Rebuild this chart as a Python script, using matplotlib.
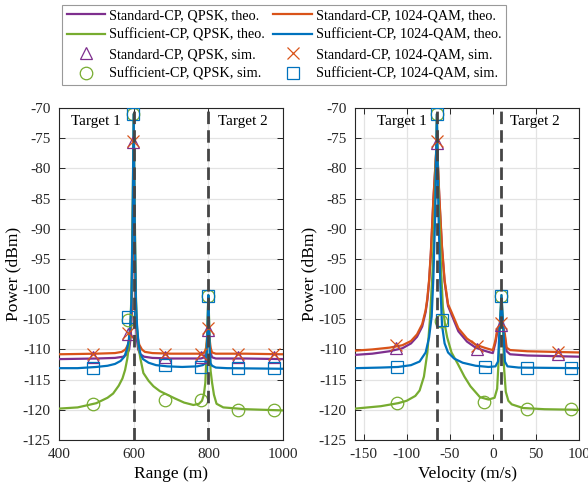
import matplotlib
matplotlib.use('Agg')
import matplotlib.pyplot as plt
from matplotlib.lines import Line2D

plt.rcParams['font.family'] = ['Liberation Serif', 'DejaVu Serif']
plt.rcParams['axes.unicode_minus'] = False

PURPLE = '#7E2F8E'
RED = '#D95319'
GREEN = '#77AC30'
BLUE = '#0072BD'

# ---------------- range panel (left) ----------------
targets_range = [600, 800]

r_std_qpsk = [400, 500, 550, 572, 582, 588, 592, 595, 597.5, 600, 602.5, 605, 608, 612, 618,
              628, 650, 700, 780, 790, 794, 797, 800, 803, 806, 810, 820, 900, 1000]
y_std_qpsk = [-111.6, -111.5, -111.4, -111.2, -110.8, -110.0, -108.0, -104.0, -92.0, -75.5, -92.0,
              -104.0, -108.0, -110.0, -110.8, -111.2, -111.4, -111.5, -111.5, -111.3, -110.5, -108.5,
              -106.7, -108.5, -110.5, -111.3, -111.5, -111.5, -111.6]

r_std_qam = [400, 500, 550, 568, 578, 585, 590, 594, 597.5, 600, 602.5, 606, 610, 615, 622,
             630, 650, 700, 780, 790, 794, 797, 800, 803, 806, 810, 820, 900, 1000]
y_std_qam = [-110.8, -110.7, -110.6, -110.4, -110.0, -109.2, -107.8, -104.0, -92.0, -75.5, -92.0,
             -104.0, -107.8, -109.2, -110.0, -110.4, -110.6, -110.7, -110.7, -110.5, -109.7, -108.0,
             -106.4, -108.0, -109.7, -110.5, -110.7, -110.7, -110.8]

r_suf_qpsk = [400, 450, 500, 530, 545, 560, 570, 577, 583, 587, 591, 594, 597, 600, 603, 606,
              609, 613, 618, 626, 640, 653, 670, 690, 710, 735, 760, 775, 783, 788, 792, 795,
              798, 800, 802, 804, 806, 810, 815, 822, 840, 900, 1000]
y_suf_qpsk = [-119.8, -119.6, -118.9, -118.0, -117.3, -116.0, -114.8, -113.4, -111.5, -109.5,
              -106.5, -101.0, -88.0, -71.0, -88.0, -101.0, -106.5, -109.5, -111.5, -113.9, -115.2,
              -116.1, -116.9, -117.5, -118.1, -118.8, -119.2, -119.0, -118.5, -117.5, -115.5,
              -111.0, -105.0, -101.0, -105.0, -110.0, -113.5, -115.5, -117.5, -119.0, -119.6,
              -119.9, -120.1]

r_suf_qam = [400, 450, 500, 530, 550, 565, 575, 582, 587, 591, 594, 597, 600, 603, 606, 609,
             613, 618, 625, 640, 660, 690, 730, 770, 785, 792, 796, 798, 800, 802, 804, 806, 810,
             820, 850, 1000]
y_suf_qam = [-113.1, -113.1, -112.9, -112.7, -112.4, -111.9, -111.2, -110.0, -108.4, -106.0,
             -102.0, -90.0, -71.0, -90.0, -102.0, -106.0, -109.0, -110.7, -111.6, -112.2, -112.6,
             -112.8, -112.9, -112.8, -112.6, -112.3, -110.5, -106.0, -101.0, -106.0, -110.5,
             -112.3, -112.7, -113.0, -113.1, -113.2]

# simulated points (range)
rs_tri = [490, 586, 598, 685, 780, 800, 880, 975]
ys_tri = [-111.3, -107.5, -75.6, -111.2, -111.2, -106.7, -111.2, -111.2]
rs_x = [490, 586, 598, 685, 780, 800, 880, 975]
ys_x = [-110.8, -107.2, -75.5, -110.8, -110.8, -106.4, -110.8, -110.8]
rs_sq = [490, 586, 598, 685, 780, 800, 880, 975]
ys_sq = [-113.1, -104.7, -71.0, -112.6, -112.9, -101.2, -113.0, -113.1]
rs_o = [490, 585, 598, 685, 780, 800, 880, 975]
ys_o = [-119.1, -105.1, -71.0, -118.4, -118.3, -101.2, -120.1, -120.1]

# ---------------- velocity panel (right) ----------------
targets_vel = [-65, 10]

v_std_qam = [-160, -140, -120, -105, -95, -88, -82, -78, -76, -74, -72, -69, -65, -62, -59,
             -56, -52, -48, -40, -30, -20, -10, -3, 0, 3, 5, 8, 10, 12, 14, 16, 20, 40, 70, 100]
y_std_qam_v = [-110.2, -110.0, -109.7, -109.3, -108.6, -107.5, -105.8, -103.5, -101.5, -98.5,
               -94.0, -85.0, -75.5, -85.0, -93.0, -98.5, -102.5, -103.8, -106.5, -108.2, -109.2,
               -109.7, -110.0, -110.1, -108.5, -106.8, -106.2, -105.7, -106.2, -107.5, -109.7,
               -110.1, -110.3, -110.4, -110.5]

v_std_qpsk = [-160, -140, -120, -105, -95, -88, -82, -78, -76, -74, -72, -69, -65, -62, -59,
              -56, -52, -48, -40, -30, -20, -10, -3, 0, 3, 5, 8, 10, 12, 14, 16, 20, 40, 70, 100]
y_std_qpsk_v = [-110.9, -110.7, -110.3, -109.8, -109.0, -107.9, -106.2, -103.8, -101.8, -98.8,
                -94.3, -85.3, -75.5, -85.3, -93.3, -98.8, -102.8, -104.2, -107.0, -108.7, -109.7,
                -110.2, -110.5, -110.6, -108.9, -107.2, -106.5, -106.0, -106.5, -107.9, -110.3,
                -110.8, -111.0, -111.1, -111.2]

v_suf_qam = [-160, -130, -110, -95, -85, -78, -74, -71, -69, -67, -65, -63, -61, -59, -56, -52,
             -45, -35, -20, -5, 3, 6, 8, 10, 12, 14, 17, 30, 100]
y_suf_qam_v = [-113.1, -113.0, -112.9, -112.6, -112.0, -110.5, -108.0, -104.5, -98.0, -88.0,
               -71.0, -88.0, -99.0, -106.0, -109.0, -110.5, -111.5, -112.2, -112.7, -112.9,
               -112.8, -112.0, -106.0, -101.0, -106.0, -112.0, -112.8, -113.0, -113.1]

v_suf_qpsk = [-160, -130, -110, -100, -90, -85, -80, -76, -73, -70, -67, -65, -63, -60, -58,
              -55, -53, -48, -41, -33, -26, -15, -5, 2, 5, 7, 8.5, 10, 11.5, 13, 15, 18, 22, 35,
              60, 100]
y_suf_qpsk_v = [-119.8, -119.4, -118.9, -118.5, -117.7, -116.8, -114.5, -110.5, -105.0, -97.0,
                -85.0, -71.0, -85.0, -97.0, -103.0, -106.5, -108.0, -110.5, -112.3, -114.5,
                -116.1, -117.9, -118.3, -118.0, -116.5, -111.0, -105.0, -101.0, -105.0, -113.0,
                -117.0, -118.5, -119.1, -119.7, -119.9, -120.0]

vs_tri = [-112, -65, -18, 10, 76]
ys_tri_v = [-109.8, -75.8, -109.9, -105.9, -110.8]
vs_x = [-112, -65, -18, 10, 76]
ys_x_v = [-109.3, -75.5, -109.5, -105.6, -110.4]
vs_sq = [-111, -65, -59, -9, 10, 40, 91]
ys_sq_v = [-112.9, -71.0, -105.1, -112.9, -101.2, -113.0, -113.1]
vs_o = [-111, -65, -60, -10, 10, 40, 91]
ys_o_v = [-118.9, -71.0, -105.3, -118.7, -101.2, -119.8, -119.9]

labels = ['Standard-CP, QPSK, theo.', 'Sufficient-CP, QPSK, theo.',
          'Standard-CP, QPSK, sim.', 'Sufficient-CP, QPSK, sim.',
          'Standard-CP, 1024-QAM, theo.', 'Sufficient-CP, 1024-QAM, theo.',
          'Standard-CP, 1024-QAM, sim.', 'Sufficient-CP, 1024-QAM, sim.']

fig = plt.figure(figsize=(5.88, 4.88), dpi=100)
ax1 = fig.add_axes([59 / 588, 48 / 488, 224 / 588, 332 / 488])
ax2 = fig.add_axes([355 / 588, 48 / 488, 224 / 588, 332 / 488])

LW = 1.6
MS = 9
dash = (0, (4.5, 2.2))


def draw(ax, xs_lines, ys_lines, sims, targets, xlim, xticks, xlabel, t1x, t2x):
    (xa, ya), (xb, yb), (xc, yc), (xd, yd) = zip(xs_lines, ys_lines)
    ax.plot(xa, ya, color=PURPLE, lw=LW, zorder=3)
    ax.plot(xb, yb, color=RED, lw=LW, zorder=3)
    ax.plot(xc, yc, color=GREEN, lw=LW, zorder=3)
    ax.plot(xd, yd, color=BLUE, lw=LW, zorder=3)
    (tx, ty), (cx, cy), (sx, sy), (ox, oy) = sims
    ax.plot(tx, ty, ls='none', marker='^', mfc='none', mec=PURPLE, ms=MS, mew=0.9, zorder=4)
    ax.plot(ox, oy, ls='none', marker='o', mfc='none', mec=GREEN, ms=MS, mew=0.9, zorder=4)
    ax.plot(cx, cy, ls='none', marker='x', color=RED, ms=MS - 1, mew=0.9, zorder=4)
    ax.plot(sx, sy, ls='none', marker='s', mfc='none', mec=BLUE, ms=MS - 1, mew=0.9, zorder=4)
    for t in targets:
        ax.axvline(t, color='#454545', lw=2, ls=dash, zorder=5)
    ax.set_xlim(*xlim)
    ax.set_ylim(-125, -70)
    ax.set_xticks(xticks)
    ax.set_yticks(range(-125, -69, 5))
    ax.grid(True, color='#e3e3e3', lw=0.9)
    ax.set_axisbelow(True)
    ax.tick_params(direction='in', top=True, right=True, length=4, width=0.7,
                   labelsize=11, colors='#262626', pad=6)
    for s in ax.spines.values():
        s.set_color('#262626')
        s.set_linewidth(0.8)
    ax.set_xlabel(xlabel, fontsize=12.5, labelpad=3)
    ax.set_ylabel('Power (dBm)', fontsize=12.5, labelpad=1)
    ax.text(t1x, -72.3, 'Target 1', fontsize=11, ha='center', va='center', zorder=6)
    ax.text(t2x, -72.3, 'Target 2', fontsize=11, ha='center', va='center', zorder=6)


draw(ax1,
     [r_std_qpsk, r_std_qam, r_suf_qpsk, r_suf_qam],
     [y_std_qpsk, y_std_qam, y_suf_qpsk, y_suf_qam],
     [(rs_tri, ys_tri), (rs_x, ys_x), (rs_sq, ys_sq), (rs_o, ys_o)],
     targets_range, (400, 1000), [400, 600, 800, 1000], 'Range (m)', 500, 893)

draw(ax2,
     [v_std_qpsk, v_std_qam, v_suf_qpsk, v_suf_qam],
     [y_std_qpsk_v, y_std_qam_v, y_suf_qpsk_v, y_suf_qam_v],
     [(vs_tri, ys_tri_v), (vs_x, ys_x_v), (vs_sq, ys_sq_v), (vs_o, ys_o_v)],
     targets_vel, (-160, 100), [-150, -100, -50, 0, 50, 100], 'Velocity (m/s)', -106, 49)

handles = [
    Line2D([], [], color=PURPLE, lw=LW),
    Line2D([], [], color=GREEN, lw=LW),
    Line2D([], [], ls='none', marker='^', mfc='none', mec=PURPLE, ms=MS, mew=0.9),
    Line2D([], [], ls='none', marker='o', mfc='none', mec=GREEN, ms=MS, mew=0.9),
    Line2D([], [], color=RED, lw=LW),
    Line2D([], [], color=BLUE, lw=LW),
    Line2D([], [], ls='none', marker='x', color=RED, ms=MS - 1, mew=0.9),
    Line2D([], [], ls='none', marker='s', mfc='none', mec=BLUE, ms=MS - 1, mew=0.9),
]
leg = fig.legend(handles, labels, ncol=2, loc='upper center',
                 bbox_to_anchor=(284 / 588, 1 - 5 / 488), fontsize=10.3,
                 frameon=True, fancybox=False, edgecolor='#808080',
                 handlelength=2.7, handletextpad=0.25, columnspacing=0.6,
                 labelspacing=0.44, borderpad=0.3, borderaxespad=0)
leg.get_frame().set_linewidth(0.8)

fig.savefig('out.png', dpi=100)
